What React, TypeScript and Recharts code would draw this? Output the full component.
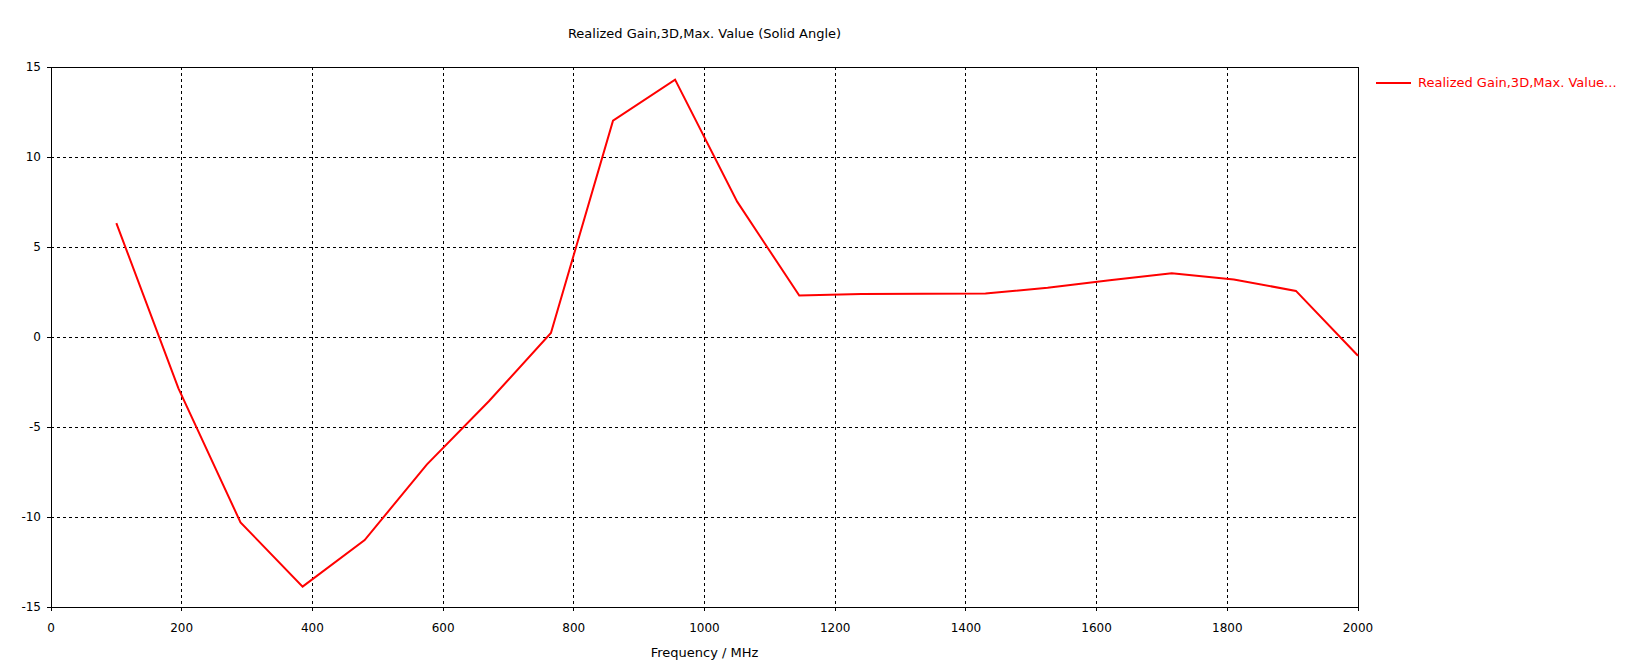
import { CartesianGrid, Line, LineChart, ReferenceLine, XAxis, YAxis } from 'recharts';

const frequencies = [
  100, 195, 290, 385, 480, 575, 670, 765, 860, 955, 1050, 1145, 1240, 1335, 1430, 1525, 1620, 1715,
  1810, 1905, 2000
];
const gainValues = [
  6.33, -2.85, -10.3, -13.87, -11.28, -7.09, -3.57, 0.22, 12.02, 14.3, 7.52, 2.3, 2.39, 2.4, 2.41,
  2.74, 3.15, 3.54, 3.2, 2.56, -1.04
];
const xTicks = [0, 200, 400, 600, 800, 1000, 1200, 1400, 1600, 1800, 2000];
const yTicks = [-15, -10, -5, 0, 5, 10, 15];

const chartTitle = 'Realized Gain,3D,Max. Value (Solid Angle)';
const seriesName = 'Realized Gain,3D,Max. Value...';
const xLabel = 'Frequency / MHz';

const data = frequencies.map((f, i) => ({ freq: f, gain: gainValues[i] }));

const font = '"DejaVu Sans", Tahoma, sans-serif';
const tickStyle = { fontSize: 12, fill: '#000', fontFamily: font };

// Realized gain vs frequency, styled like a CST plot window.
export default function App() {
  return (
    <div style={{ position: 'absolute', left: 0, top: 0, width: 1650, height: 668, background: '#fff', fontFamily: font }}>
      <style>{`
        .recharts-cartesian-grid line,
        .recharts-cartesian-axis-line,
        .recharts-cartesian-axis-tick-line,
        .recharts-reference-line-line { shape-rendering: crispEdges; }
      `}</style>
      <div style={{ position: 'absolute', left: 51, width: 1307, top: 26, textAlign: 'center', fontSize: 13, lineHeight: '15px' }}>
        {chartTitle}
      </div>
      <LineChart
        width={1650}
        height={668}
        data={data}
        margin={{ top: 67, right: 292, bottom: 0, left: 0 }}
      >
        <CartesianGrid stroke="#000" strokeDasharray="3 3" />
        <XAxis
          dataKey="freq"
          type="number"
          domain={[0, 2000]}
          ticks={xTicks}
          interval={0}
          height={61}
          stroke="#000"
          tickSize={4}
          tickMargin={12}
          tick={tickStyle}
        />
        <YAxis
          type="number"
          domain={[-15, 15]}
          ticks={yTicks}
          interval={0}
          width={51}
          stroke="#000"
          tickSize={4}
          tickMargin={6}
          tick={tickStyle}
        />
        <ReferenceLine y={15} stroke="#000" />
        <ReferenceLine x={2000} stroke="#000" />
        <Line
          type="linear"
          dataKey="gain"
          stroke="#ff0000"
          strokeWidth={2}
          dot={false}
          isAnimationActive={false}
        />
      </LineChart>
      <div style={{ position: 'absolute', left: 51, width: 1307, top: 645, textAlign: 'center', fontSize: 13, lineHeight: '15px' }}>
        {xLabel}
      </div>
      <div style={{ position: 'absolute', left: 1376, top: 75, display: 'flex', alignItems: 'center', fontSize: 13, lineHeight: '15px', color: '#ff0000' }}>
        <span style={{ display: 'inline-block', width: 35, height: 2, background: '#ff0000', marginRight: 7 }} />
        <span>{seriesName}</span>
      </div>
    </div>
  );
}
